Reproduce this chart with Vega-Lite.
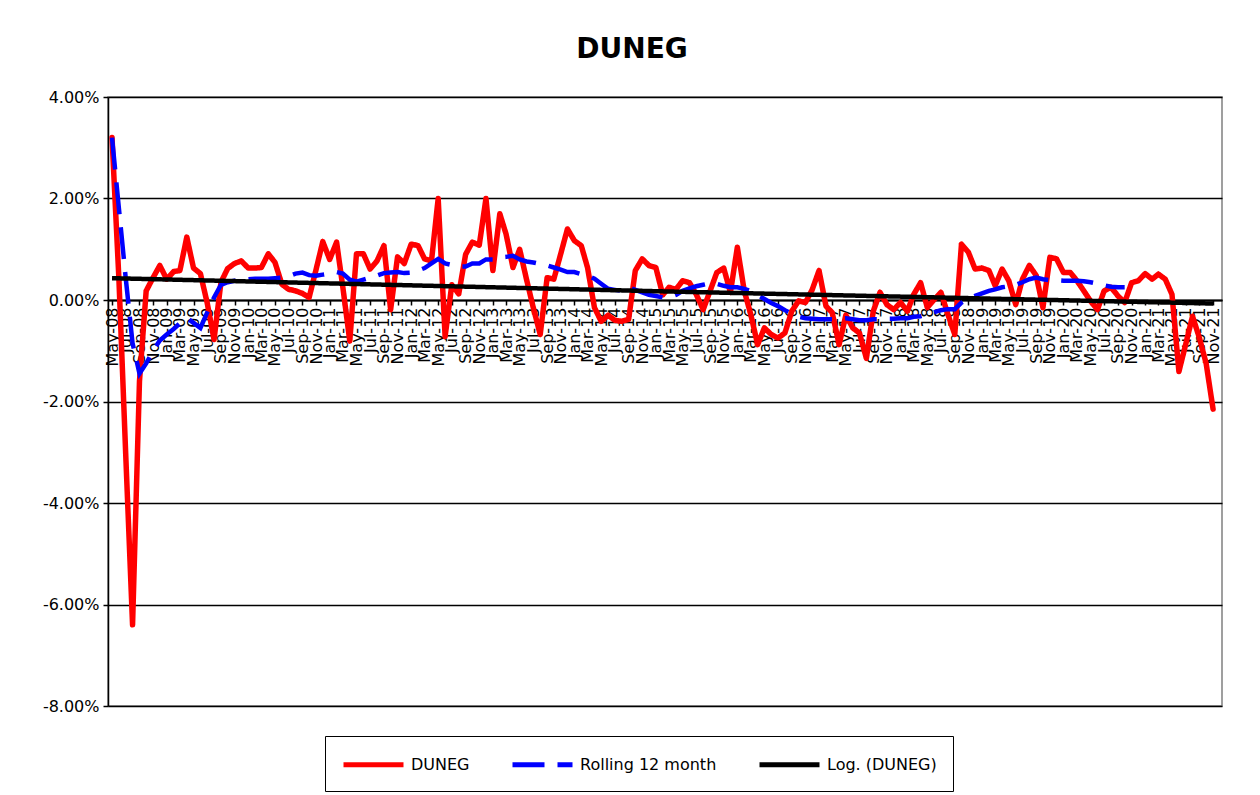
{
  "$schema": "https://vega.github.io/schema/vega-lite/v6.json",
  "autosize": {"type": "none"},
  "width": 1114,
  "height": 609,
  "padding": {"left": 108, "top": 97, "right": 38, "bottom": 89},
  "background": "white",
  "title": {"text": "DUNEG", "font": "DejaVu Sans", "fontSize": 28, "fontWeight": "bold", "color": "black", "anchor": "middle", "frame": "group", "dx": -33, "baseline": "alphabetic", "offset": 3},
  "datasets": {
    "monthly": [
      {"d": "2008-05-01", "v": 3.2, "r": 3.2},
      {"d": "2008-06-01", "v": 0.4, "r": 1.8},
      {"d": "2008-07-01", "v": -3.0, "r": 0.45},
      {"d": "2008-08-01", "v": -6.4, "r": -0.85},
      {"d": "2008-09-01", "v": -1.6, "r": -1.45},
      {"d": "2008-10-01", "v": 0.18, "r": -1.25},
      {"d": "2008-11-01", "v": 0.44, "r": -1.0},
      {"d": "2008-12-01", "v": 0.68, "r": -0.8},
      {"d": "2009-01-01", "v": 0.41, "r": -0.68},
      {"d": "2009-02-01", "v": 0.56, "r": -0.57},
      {"d": "2009-03-01", "v": 0.58, "r": -0.46},
      {"d": "2009-04-01", "v": 1.24, "r": -0.35},
      {"d": "2009-05-01", "v": 0.63, "r": -0.45},
      {"d": "2009-06-01", "v": 0.52, "r": -0.55},
      {"d": "2009-07-01", "v": -0.05, "r": -0.25},
      {"d": "2009-08-01", "v": -0.78, "r": 0.05},
      {"d": "2009-09-01", "v": 0.35, "r": 0.3},
      {"d": "2009-10-01", "v": 0.62, "r": 0.35},
      {"d": "2009-11-01", "v": 0.72, "r": 0.38},
      {"d": "2009-12-01", "v": 0.77, "r": 0.4},
      {"d": "2010-01-01", "v": 0.63, "r": 0.41},
      {"d": "2010-02-01", "v": 0.63, "r": 0.42},
      {"d": "2010-03-01", "v": 0.64, "r": 0.42},
      {"d": "2010-04-01", "v": 0.91, "r": 0.42},
      {"d": "2010-05-01", "v": 0.74, "r": 0.43},
      {"d": "2010-06-01", "v": 0.31, "r": 0.44},
      {"d": "2010-07-01", "v": 0.21, "r": 0.47},
      {"d": "2010-08-01", "v": 0.18, "r": 0.52},
      {"d": "2010-09-01", "v": 0.13, "r": 0.54},
      {"d": "2010-10-01", "v": 0.05, "r": 0.49},
      {"d": "2010-11-01", "v": 0.6, "r": 0.48},
      {"d": "2010-12-01", "v": 1.15, "r": 0.5},
      {"d": "2011-01-01", "v": 0.8, "r": 0.52},
      {"d": "2011-02-01", "v": 1.14, "r": 0.55},
      {"d": "2011-03-01", "v": 0.25, "r": 0.52},
      {"d": "2011-04-01", "v": -0.81, "r": 0.4},
      {"d": "2011-05-01", "v": 0.91, "r": 0.36},
      {"d": "2011-06-01", "v": 0.91, "r": 0.4},
      {"d": "2011-07-01", "v": 0.61, "r": 0.44},
      {"d": "2011-08-01", "v": 0.77, "r": 0.48},
      {"d": "2011-09-01", "v": 1.07, "r": 0.53},
      {"d": "2011-10-01", "v": -0.19, "r": 0.54},
      {"d": "2011-11-01", "v": 0.85, "r": 0.55},
      {"d": "2011-12-01", "v": 0.72, "r": 0.53},
      {"d": "2012-01-01", "v": 1.1, "r": 0.54},
      {"d": "2012-02-01", "v": 1.07, "r": 0.58},
      {"d": "2012-03-01", "v": 0.81, "r": 0.63},
      {"d": "2012-04-01", "v": 0.77, "r": 0.72},
      {"d": "2012-05-01", "v": 2.0, "r": 0.81},
      {"d": "2012-06-01", "v": -0.72, "r": 0.72},
      {"d": "2012-07-01", "v": 0.3, "r": 0.69},
      {"d": "2012-08-01", "v": 0.12, "r": 0.66},
      {"d": "2012-09-01", "v": 0.9, "r": 0.66},
      {"d": "2012-10-01", "v": 1.14, "r": 0.72},
      {"d": "2012-11-01", "v": 1.08, "r": 0.72},
      {"d": "2012-12-01", "v": 2.0, "r": 0.8},
      {"d": "2013-01-01", "v": 0.58, "r": 0.8},
      {"d": "2013-02-01", "v": 1.7, "r": 0.84},
      {"d": "2013-03-01", "v": 1.3, "r": 0.85},
      {"d": "2013-04-01", "v": 0.64, "r": 0.87},
      {"d": "2013-05-01", "v": 1.0, "r": 0.8},
      {"d": "2013-06-01", "v": 0.4, "r": 0.76},
      {"d": "2013-07-01", "v": -0.15, "r": 0.74},
      {"d": "2013-08-01", "v": -0.68, "r": 0.71},
      {"d": "2013-09-01", "v": 0.44, "r": 0.68},
      {"d": "2013-10-01", "v": 0.41, "r": 0.64},
      {"d": "2013-11-01", "v": 0.91, "r": 0.6},
      {"d": "2013-12-01", "v": 1.4, "r": 0.55},
      {"d": "2014-01-01", "v": 1.17, "r": 0.55},
      {"d": "2014-02-01", "v": 1.07, "r": 0.51},
      {"d": "2014-03-01", "v": 0.64, "r": 0.48},
      {"d": "2014-04-01", "v": -0.15, "r": 0.42},
      {"d": "2014-05-01", "v": -0.42, "r": 0.32},
      {"d": "2014-06-01", "v": -0.3, "r": 0.22},
      {"d": "2014-07-01", "v": -0.4, "r": 0.2},
      {"d": "2014-08-01", "v": -0.42, "r": 0.18},
      {"d": "2014-09-01", "v": -0.38, "r": 0.25},
      {"d": "2014-10-01", "v": 0.58, "r": 0.2},
      {"d": "2014-11-01", "v": 0.81, "r": 0.15},
      {"d": "2014-12-01", "v": 0.68, "r": 0.1},
      {"d": "2015-01-01", "v": 0.64, "r": 0.08},
      {"d": "2015-02-01", "v": 0.1, "r": 0.05},
      {"d": "2015-03-01", "v": 0.25, "r": 0.05},
      {"d": "2015-04-01", "v": 0.21, "r": 0.1},
      {"d": "2015-05-01", "v": 0.38, "r": 0.18},
      {"d": "2015-06-01", "v": 0.34, "r": 0.23},
      {"d": "2015-07-01", "v": 0.11, "r": 0.27},
      {"d": "2015-08-01", "v": -0.19, "r": 0.3},
      {"d": "2015-09-01", "v": 0.18, "r": 0.33},
      {"d": "2015-10-01", "v": 0.54, "r": 0.32},
      {"d": "2015-11-01", "v": 0.63, "r": 0.28},
      {"d": "2015-12-01", "v": 0.15, "r": 0.25},
      {"d": "2016-01-01", "v": 1.04, "r": 0.25},
      {"d": "2016-02-01", "v": 0.18, "r": 0.22},
      {"d": "2016-03-01", "v": -0.28, "r": 0.18},
      {"d": "2016-04-01", "v": -0.88, "r": 0.1},
      {"d": "2016-05-01", "v": -0.55, "r": 0.02},
      {"d": "2016-06-01", "v": -0.68, "r": -0.06},
      {"d": "2016-07-01", "v": -0.75, "r": -0.12},
      {"d": "2016-08-01", "v": -0.65, "r": -0.2},
      {"d": "2016-09-01", "v": -0.22, "r": -0.27},
      {"d": "2016-10-01", "v": -0.02, "r": -0.33},
      {"d": "2016-11-01", "v": -0.05, "r": -0.36},
      {"d": "2016-12-01", "v": 0.2, "r": -0.37},
      {"d": "2017-01-01", "v": 0.58, "r": -0.38},
      {"d": "2017-02-01", "v": -0.12, "r": -0.38},
      {"d": "2017-03-01", "v": -0.25, "r": -0.38},
      {"d": "2017-04-01", "v": -0.88, "r": -0.37},
      {"d": "2017-05-01", "v": -0.3, "r": -0.36},
      {"d": "2017-06-01", "v": -0.55, "r": -0.38},
      {"d": "2017-07-01", "v": -0.65, "r": -0.4},
      {"d": "2017-08-01", "v": -1.15, "r": -0.4},
      {"d": "2017-09-01", "v": -0.22, "r": -0.38},
      {"d": "2017-10-01", "v": 0.15, "r": -0.38},
      {"d": "2017-11-01", "v": -0.09, "r": -0.37},
      {"d": "2017-12-01", "v": -0.19, "r": -0.37},
      {"d": "2018-01-01", "v": -0.05, "r": -0.36},
      {"d": "2018-02-01", "v": -0.22, "r": -0.36},
      {"d": "2018-03-01", "v": 0.11, "r": -0.33},
      {"d": "2018-04-01", "v": 0.34, "r": -0.32},
      {"d": "2018-05-01", "v": -0.15, "r": -0.28},
      {"d": "2018-06-01", "v": 0.01, "r": -0.24},
      {"d": "2018-07-01", "v": 0.15, "r": -0.2},
      {"d": "2018-08-01", "v": -0.28, "r": -0.18},
      {"d": "2018-09-01", "v": -0.68, "r": -0.18},
      {"d": "2018-10-01", "v": 1.1, "r": -0.05},
      {"d": "2018-11-01", "v": 0.94, "r": 0.02},
      {"d": "2018-12-01", "v": 0.61, "r": 0.08},
      {"d": "2019-01-01", "v": 0.63, "r": 0.13},
      {"d": "2019-02-01", "v": 0.58, "r": 0.18},
      {"d": "2019-03-01", "v": 0.28, "r": 0.21},
      {"d": "2019-04-01", "v": 0.61, "r": 0.25},
      {"d": "2019-05-01", "v": 0.38, "r": 0.27},
      {"d": "2019-06-01", "v": -0.09, "r": 0.3},
      {"d": "2019-07-01", "v": 0.41, "r": 0.35},
      {"d": "2019-08-01", "v": 0.68, "r": 0.41},
      {"d": "2019-09-01", "v": 0.48, "r": 0.44},
      {"d": "2019-10-01", "v": -0.15, "r": 0.41},
      {"d": "2019-11-01", "v": 0.84, "r": 0.39},
      {"d": "2019-12-01", "v": 0.81, "r": 0.39},
      {"d": "2020-01-01", "v": 0.54, "r": 0.38},
      {"d": "2020-02-01", "v": 0.54, "r": 0.38},
      {"d": "2020-03-01", "v": 0.38, "r": 0.38},
      {"d": "2020-04-01", "v": 0.18, "r": 0.37},
      {"d": "2020-05-01", "v": -0.02, "r": 0.35},
      {"d": "2020-06-01", "v": -0.19, "r": 0.32},
      {"d": "2020-07-01", "v": 0.18, "r": 0.29},
      {"d": "2020-08-01", "v": 0.25, "r": 0.26},
      {"d": "2020-09-01", "v": 0.08, "r": 0.25},
      {"d": "2020-10-01", "v": -0.05, "r": 0.25},
      {"d": "2020-11-01", "v": 0.34, "r": null},
      {"d": "2020-12-01", "v": 0.38, "r": null},
      {"d": "2021-01-01", "v": 0.52, "r": null},
      {"d": "2021-02-01", "v": 0.41, "r": null},
      {"d": "2021-03-01", "v": 0.51, "r": null},
      {"d": "2021-04-01", "v": 0.41, "r": null},
      {"d": "2021-05-01", "v": 0.11, "r": null},
      {"d": "2021-06-01", "v": -1.41, "r": null},
      {"d": "2021-07-01", "v": -0.88, "r": null},
      {"d": "2021-08-01", "v": -0.32, "r": null},
      {"d": "2021-09-01", "v": -0.75, "r": null},
      {"d": "2021-10-01", "v": -1.25, "r": null},
      {"d": "2021-11-01", "v": -2.15, "r": null}
    ],
    "trend": [
      {"d": "2008-05-01", "t": 0.43},
      {"d": "2015-02-01", "t": 0.17},
      {"d": "2021-11-01", "t": -0.07}
    ]
  },
  "encoding": {
    "x": {
      "field": "d",
      "type": "temporal",
      "scale": {"type": "utc", "domain": [{"year": 2008, "month": 4, "date": 13, "utc": true}, {"year": 2021, "month": 12, "date": 11, "utc": true}]},
      "axis": {
        "title": null,
        "orient": "bottom",
        "offset": -406,
        "format": "%b-%y",
        "tickCount": {"interval": "month", "step": 2},
        "labelAngle": -90,
        "labelFont": "DejaVu Sans",
        "labelFontSize": 16,
        "labelColor": "black",
        "labelOverlap": false,
        "labelBound": false,
        "labelFlush": false,
        "labelPadding": 2,
        "tickColor": "black",
        "tickSize": 5,
        "tickWidth": 1.5,
        "domainColor": "black",
        "domainWidth": 2,
        "grid": false
      }
    }
  },
  "layer": [
    {
      "data": {"name": "monthly"},
      "mark": {"type": "line", "strokeWidth": 5.5, "strokeJoin": "round", "strokeCap": "round"},
      "encoding": {
        "y": {
          "field": "v",
          "type": "quantitative",
          "scale": {"domain": [-8, 4], "nice": false, "zero": false},
          "axis": {
            "title": null,
            "values": [-8, -6, -4, -2, 0, 2, 4],
            "labelExpr": "replace(format(datum.value, '.2f'), '\u2212', '-') + '%'",
            "labelFont": "DejaVu Sans",
            "labelFontSize": 16,
            "labelColor": "black",
            "labelPadding": 4,
            "tickColor": "black",
            "tickSize": 5,
            "tickWidth": 1.5,
            "domainColor": "black",
            "domainWidth": 1.5,
            "grid": true,
            "gridColor": "black",
            "gridWidth": 1.5,
            "gridOpacity": 1
          }
        },
        "color": {
          "datum": "DUNEG",
          "scale": {"domain": ["DUNEG", "Rolling 12 month", "Log. (DUNEG)"], "range": ["#ff0000", "#0000ff", "#000000"]},
          "legend": {
            "title": null,
            "orient": "none",
            "legendX": 217,
            "legendY": 639,
            "direction": "horizontal",
            "symbolType": "M-3,0L3,0",
            "symbolSize": 400,
            "symbolStrokeWidth": 5,
            "symbolOffset": 20,
            "labelOffset": 25,
            "labelFont": "DejaVu Sans",
            "labelFontSize": 16,
            "labelColor": "black",
            "padding": 16,
            "strokeColor": "black",
            "fillColor": "white",
            "columnPadding": 32
          }
        },
        "strokeDash": {
          "datum": "DUNEG",
          "scale": {"domain": ["DUNEG", "Rolling 12 month", "Log. (DUNEG)"], "range": [[1, 0], [32, 13], [1, 0]]},
          "legend": null
        }
      }
    },
    {
      "data": {"name": "monthly"},
      "transform": [{"filter": "isValid(datum.r)"}],
      "mark": {"type": "line", "strokeWidth": 4.5, "strokeCap": "butt"},
      "encoding": {
        "y": {"field": "r", "type": "quantitative", "axis": {"title": null}},
        "color": {"datum": "Rolling 12 month"},
        "strokeDash": {"datum": "Rolling 12 month"}
      }
    },
    {
      "data": {"name": "trend"},
      "mark": {"type": "line", "strokeWidth": 4.5},
      "encoding": {
        "y": {"field": "t", "type": "quantitative", "axis": {"title": null}},
        "color": {"datum": "Log. (DUNEG)"},
        "strokeDash": {"datum": "Log. (DUNEG)"}
      }
    }
  ],
  "config": {
    "view": {"stroke": "#808080", "strokeWidth": 1.5}
  }
}
